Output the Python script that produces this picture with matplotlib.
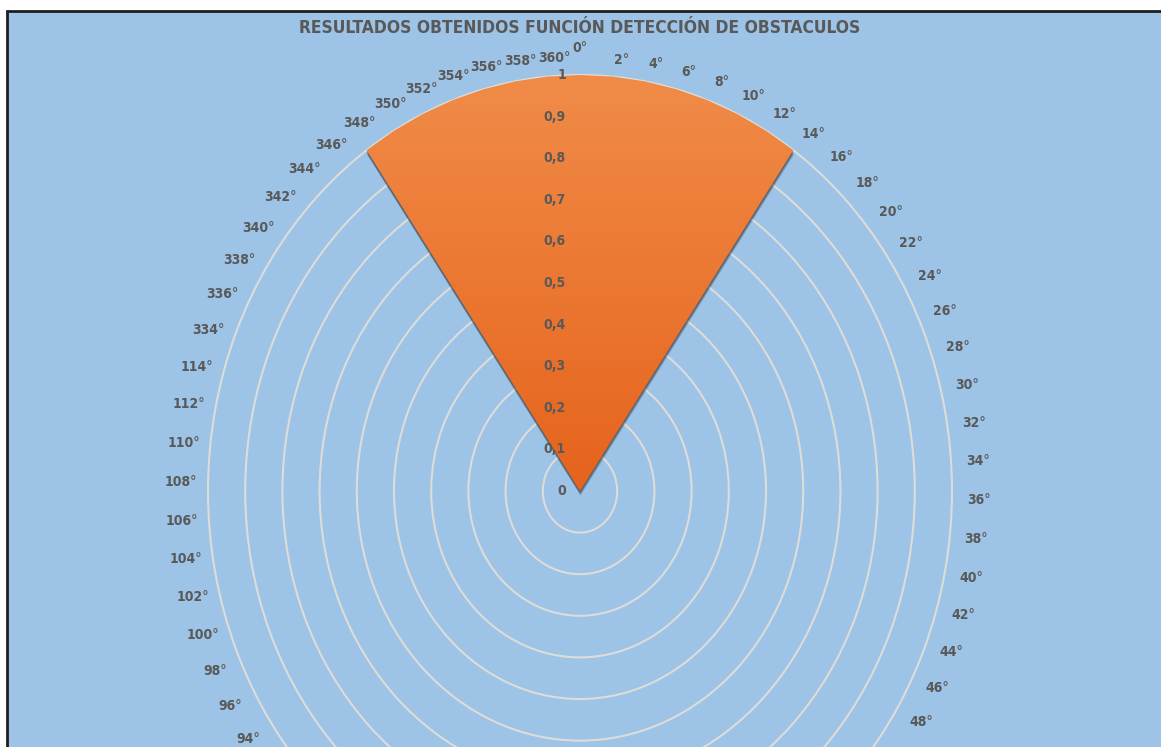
import numpy as np
import matplotlib
matplotlib.use("Agg")
import matplotlib.pyplot as plt
from matplotlib import transforms
from matplotlib.patches import Rectangle
from matplotlib.colors import LinearSegmentedColormap

# ---------------- data ----------------
title = "RESULTADOS OBTENIDOS FUNCIÓN DETECCIÓN DE OBSTACULOS"
cat_deg_a = [0, 2, 4, 6, 8, 10, 12, 14, 16, 18, 20, 22, 24, 26, 28, 30, 32, 34, 36, 38,
             40, 42, 44, 46, 48, 50, 52, 54, 56, 58, 60, 62, 64, 66, 68, 70, 72, 74, 76, 78,
             80, 82, 84, 86, 88, 90, 92, 94, 96, 98, 100, 102, 104, 106, 108, 110, 112, 114]
cat_deg_b = [334, 336, 338, 340, 342, 344, 346, 348, 350, 352, 354, 356, 358, 360]
categories = [f"{d}°" for d in cat_deg_a + cat_deg_b]
values = [1, 1, 1, 1, 1, 1, 1, 1, 0, 0, 0, 0, 0, 0, 0, 0, 0, 0, 0, 0,
          0, 0, 0, 0, 0, 0, 0, 0, 0, 0, 0, 0, 0, 0, 0, 0, 0, 0, 0, 0,
          0, 0, 0, 0, 0, 0, 0, 0, 0, 0, 0, 0, 0, 0, 0, 0, 0, 0,
          0, 0, 0, 0, 0, 0, 0, 1, 1, 1, 1, 1, 1, 1]
r_ticks = [0, 0.1, 0.2, 0.3, 0.4, 0.5, 0.6, 0.7, 0.8, 0.9, 1]
r_tick_labels = ["0", "0,1", "0,2", "0,3", "0,4", "0,5", "0,6", "0,7", "0,8", "0,9", "1"]

# ---------------- style ----------------
W, H = 1161, 747
BG = "#9DC3E6"
GRID = "#DEDCD8"
TXT = "#595959"
FONT = ["Liberation Sans Narrow", "DejaVu Sans"]
ORANGE_TOP = "#F08C48"
ORANGE_BOT = "#E6631C"

fig = plt.figure(figsize=(W / 100, H / 100), dpi=100, facecolor="white")
fig.patches.append(Rectangle((7.3 / W, -0.1), 1.2, 1 - 10.7 / H + 0.1,
                             transform=fig.transFigure, facecolor=BG,
                             edgecolor="#1E1E1E", lw=2, zorder=-10))

cx, cy = 580 / W, (H - 491) / H
rx, ry = 372 / W, 416 / H
rect = [cx - rx, cy - ry, 2 * rx, 2 * ry]

ax = fig.add_axes(rect, projection="polar")
ax.set_aspect("auto")
ax.patch.set_visible(False)
ax.set_theta_zero_location("N")
ax.set_theta_direction(-1)
ax.set_ylim(0, 1)

n = len(categories)
theta = np.deg2rad(np.arange(n) * 360.0 / n)

ax.set_xticks(theta)
ax.set_xticklabels([])
ax.xaxis.grid(False)
ax.set_yticks(r_ticks[1:-1])
ax.set_yticklabels([])
ax.yaxis.grid(True, color=GRID, lw=1.5)
ax.spines["polar"].set_color(GRID)
ax.spines["polar"].set_linewidth(1.5)
ax.tick_params(length=0)

# soft shadow of the filled series
for dx, dy in [(0, -1.5), (0, -2.5), (0.3, -3.5), (0.5, -4.5)]:
    tr = transforms.offset_copy(ax.transData, fig=fig, x=dx, y=dy, units="dots")
    ax.fill(theta, values, facecolor="#262626", edgecolor="none", alpha=0.22,
            transform=tr, zorder=3)
poly = ax.fill(theta, values, facecolor="none", edgecolor="none", zorder=4)[0]

# gradient fill clipped to the series polygon
ov = fig.add_axes(rect, frameon=False)
ov.set_xlim(0, 1)
ov.set_ylim(0, 1)
ov.axis("off")
cmap = LinearSegmentedColormap.from_list("orng", [ORANGE_BOT, ORANGE_TOP])
grad = np.linspace(0, 1, 256).reshape(-1, 1)
im = ov.imshow(grad, extent=(0, 1, 0.5, 1.0), origin="lower", cmap=cmap,
               aspect="auto", zorder=1)
im.set_clip_path(poly)

# radial value labels
lab_tr = transforms.offset_copy(ax.transData, fig=fig, x=-14, y=0, units="dots")
for r, s in zip(r_ticks, r_tick_labels):
    ov.text(0, r, s, transform=lab_tr, ha="right", va="center", fontsize=10,
            color=TXT, family=FONT, fontweight="bold", fontstretch="condensed",
            zorder=5, clip_on=False)

# category labels
for t, lab in zip(theta, categories):
    d = np.rad2deg(t)
    s = d if d <= 180 else d - 360
    if s == 0:
        rl, tl = 1.065, t
    else:
        rl = min(1.072, 1.0395 + 0.0007 * abs(s))
        tl = t + np.deg2rad(1.2)
    ov.text(tl, rl, lab, transform=ax.transData, ha="center", va="center",
            fontsize=10, color=TXT, family=FONT, fontweight="bold",
            fontstretch="condensed", clip_on=False)

fig.text(580 / W, 1 - 28 / H, title, ha="center", va="center", fontsize=12.5,
         color=TXT, family=FONT, fontweight="bold", fontstretch="condensed")

fig.savefig("out.png", dpi=100, facecolor="white")
